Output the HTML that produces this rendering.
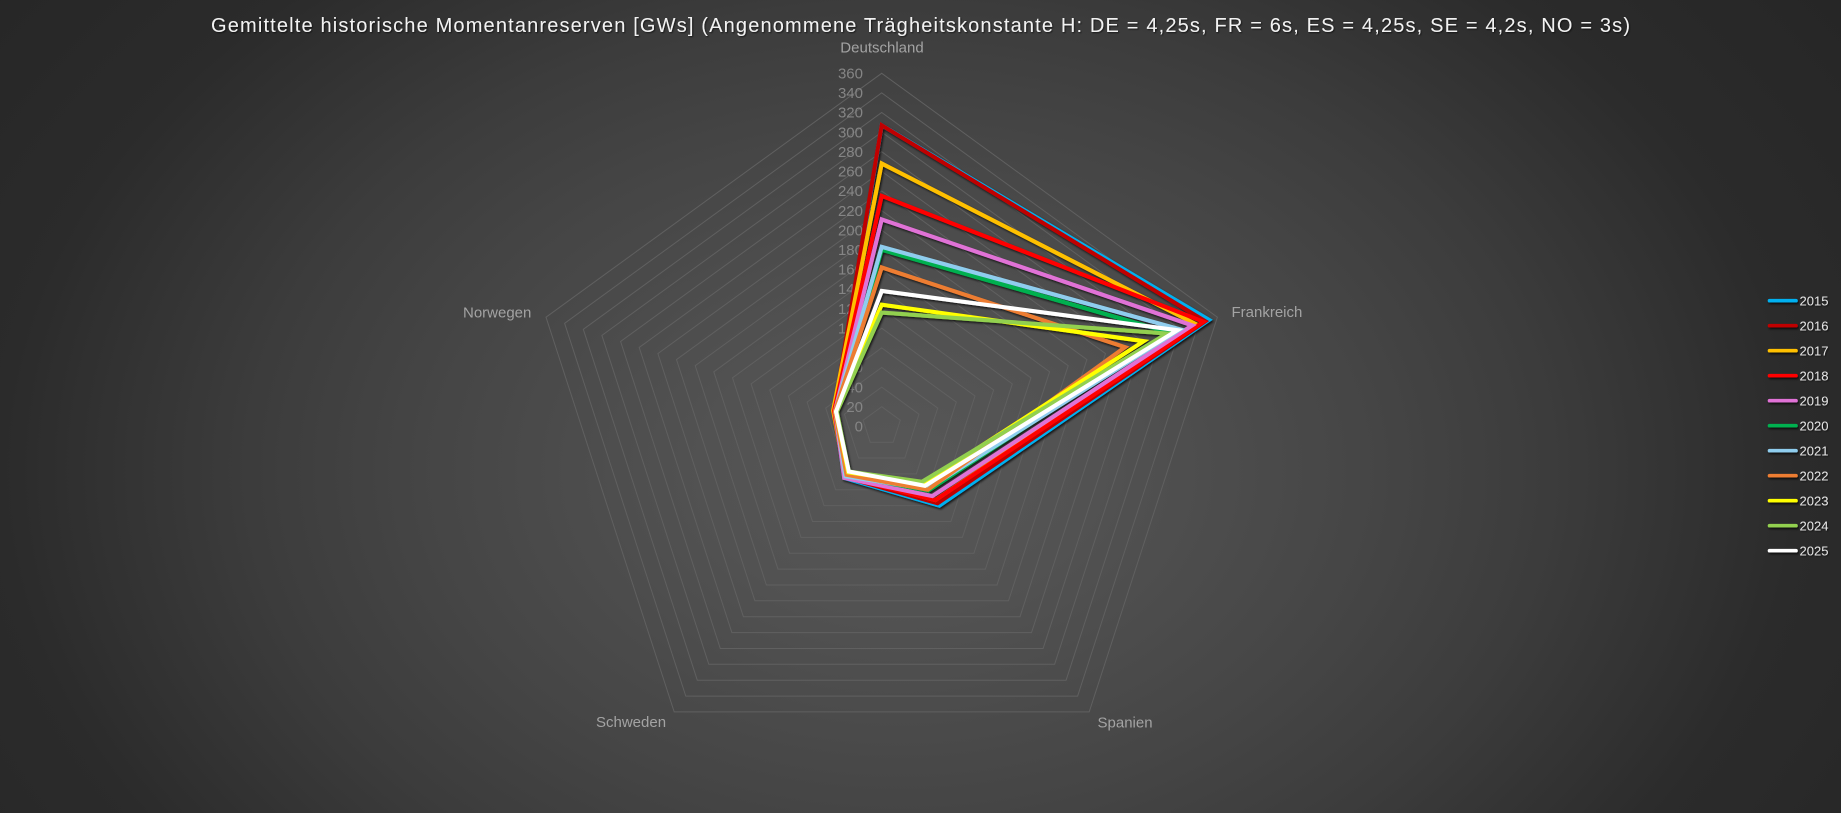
<!DOCTYPE html>
<html>
<head>
<meta charset="utf-8">
<style>
html,body{margin:0;padding:0;}
body{width:1841px;height:813px;overflow:hidden;
background:radial-gradient(ellipse 1300px 930px at 900px 470px,#575757 0%,#525252 15%,#4a4a4a 28.5%,#454545 37%,#3c3c3c 50%,#2b2b2b 69%,#232323 100%);}
svg{position:absolute;left:0;top:0;}
text{font-family:"Liberation Sans",sans-serif;}
</style>
</head>
<body>
<svg width="1841" height="813" viewBox="0 0 1841 813" xmlns="http://www.w3.org/2000/svg">
<defs>
<filter id="sh" x="-10%" y="-10%" width="120%" height="120%">
<feDropShadow dx="1.2" dy="1.6" stdDeviation="1.1" flood-color="#000" flood-opacity="0.75"/>
</filter>
<filter id="tsh" x="-5%" y="-30%" width="110%" height="160%">
<feDropShadow dx="1" dy="1" stdDeviation="0.8" flood-color="#000" flood-opacity="0.6"/>
</filter>
</defs>

<!-- Title -->
<text x="211" y="32" font-size="20" fill="#f2f2f2" textLength="1419" lengthAdjust="spacing" filter="url(#tsh)">Gemittelte historische Momentanreserven [GWs] (Angenommene Trägheitskonstante H: DE = 4,25s, FR = 6s, ES = 4,25s, SE = 4,2s, NO = 3s)</text>

<!-- grid rings -->
<g fill="none" stroke="#606060" stroke-width="1">
<polygon points="881.7,406.7 900.3,420.2 893.2,442.2 870.2,442.2 863.1,420.2"/>
<polygon points="881.7,387.1 919.0,414.2 904.8,458.0 858.6,458.0 844.4,414.2"/>
<polygon points="881.7,367.5 937.7,408.1 916.3,473.9 847.1,473.9 825.7,408.1"/>
<polygon points="881.7,347.9 956.3,402.1 927.8,489.8 835.6,489.8 807.1,402.1"/>
<polygon points="881.7,328.2 975.0,396.0 939.3,505.6 824.1,505.6 788.4,396.0"/>
<polygon points="881.7,308.6 993.6,390.0 950.9,521.5 812.5,521.5 769.8,390.0"/>
<polygon points="881.7,289.0 1012.3,383.9 962.4,537.4 801.0,537.4 751.1,383.9"/>
<polygon points="881.7,269.4 1030.9,377.8 973.9,553.2 789.5,553.2 732.5,377.8"/>
<polygon points="881.7,249.8 1049.6,371.8 985.4,569.1 778.0,569.1 713.8,371.8"/>
<polygon points="881.7,230.2 1068.2,365.7 997.0,585.0 766.4,585.0 695.2,365.7"/>
<polygon points="881.7,210.6 1086.9,359.6 1008.5,600.8 754.9,600.8 676.5,359.6"/>
<polygon points="881.7,190.97 1105.5,353.6 1020.0,616.7 743.4,616.7 657.9,353.6"/>
<polygon points="881.7,171.4 1124.2,347.5 1031.5,632.6 731.9,632.6 639.2,347.5"/>
<polygon points="881.7,151.7 1142.8,341.5 1043.1,648.5 720.3,648.5 620.6,341.5"/>
<polygon points="881.7,132.1 1161.5,335.4 1054.6,664.3 708.8,664.3 601.9,335.4"/>
<polygon points="881.7,112.5 1180.1,329.3 1066.1,680.2 697.3,680.2 583.3,329.3"/>
<polygon points="881.7,92.9 1198.8,323.3 1077.6,696.1 685.8,696.1 564.6,323.3"/>
<polygon points="881.7,73.3 1217.4,317.2 1089.2,711.9 674.2,711.9 546.0,317.2"/>
</g>

<!-- Tick labels -->
<g font-size="15" fill="#858585" text-anchor="end">
<text x="863" y="431.5">0</text>
<text x="863" y="411.9">20</text>
<text x="863" y="392.3">40</text>
<text x="863" y="372.7">60</text>
<text x="863" y="353.1">80</text>
<text x="863" y="333.5">100</text>
<text x="863" y="313.8">120</text>
<text x="863" y="294.2">140</text>
<text x="863" y="274.6">160</text>
<text x="863" y="255.0">180</text>
<text x="863" y="235.4">200</text>
<text x="863" y="215.8">220</text>
<text x="863" y="196.2">240</text>
<text x="863" y="176.6">260</text>
<text x="863" y="156.9">280</text>
<text x="863" y="137.3">300</text>
<text x="863" y="117.7">320</text>
<text x="863" y="98.1">340</text>
<text x="863" y="78.5">360</text>
</g>

<!-- Category labels -->
<g font-size="15" fill="#a3a3a3">
<text x="882" y="52.5" text-anchor="middle">Deutschland</text>
<text x="1231.5" y="317">Frankreich</text>
<text x="463" y="317.5">Norwegen</text>
<text x="596" y="727">Schweden</text>
<text x="1097.5" y="727.5">Spanien</text>
</g>

<!-- Series -->
<g transform="translate(881.7 426.3) scale(0.9806)" fill="none" stroke-width="4.2" stroke-linejoin="miter" stroke-miterlimit="10" filter="url(#sh)">
<polygon stroke="#00b0f0" points="0,-307 333.8,-108.5 58.8,80.9 -38.2,52.6 -47.6,-15.5"/>
<polygon stroke="#c00000" points="0,-307 330.0,-107.2 57.0,78.5 -37.6,51.8 -48.5,-15.8"/>
<polygon stroke="#ffc000" points="0,-268 320.5,-104.1 54.7,75.2 -37.0,51.0 -49.5,-16.1"/>
<polygon stroke="#ff0000" points="0,-235 328.1,-106.6 54.7,75.2 -37.6,51.8 -48.5,-15.8"/>
<polygon stroke="#e072d6" points="0,-211 316.7,-102.9 51.7,71.2 -38.2,52.6 -47.6,-15.5"/>
<polygon stroke="#00b050" points="0,-180 293.9,-95.5 47.6,65.5 -36.4,50.2 -46.6,-15.1"/>
<polygon stroke="#8fcdee" points="0,-183 304.3,-98.9 46.4,63.9 -37.0,51.0 -47.6,-15.5"/>
<polygon stroke="#ed7d31" points="0,-162 248.2,-80.7 47.0,64.7 -35.9,49.4 -47.6,-15.5"/>
<polygon stroke="#ffff00" points="0,-124 267.2,-86.8 42.3,58.2 -34.1,46.9 -46.6,-15.1"/>
<polygon stroke="#92d050" points="0,-116 291.0,-94.6 41.1,56.6 -33.5,46.1 -45.7,-14.8"/>
<polygon stroke="#ffffff" points="0,-138 301.5,-98.0 44.1,60.7 -33.5,46.1 -46.6,-15.1"/>
</g>

<!-- Legend -->
<g stroke-width="3.6" stroke-linecap="round" filter="url(#sh)">
<line x1="1769.5" y1="300.7" x2="1796" y2="300.7" stroke="#00b0f0"/>
<line x1="1769.5" y1="325.7" x2="1796" y2="325.7" stroke="#c00000"/>
<line x1="1769.5" y1="350.7" x2="1796" y2="350.7" stroke="#ffc000"/>
<line x1="1769.5" y1="375.7" x2="1796" y2="375.7" stroke="#ff0000"/>
<line x1="1769.5" y1="400.7" x2="1796" y2="400.7" stroke="#e072d6"/>
<line x1="1769.5" y1="425.7" x2="1796" y2="425.7" stroke="#00b050"/>
<line x1="1769.5" y1="450.7" x2="1796" y2="450.7" stroke="#8fcdee"/>
<line x1="1769.5" y1="475.7" x2="1796" y2="475.7" stroke="#ed7d31"/>
<line x1="1769.5" y1="500.7" x2="1796" y2="500.7" stroke="#ffff00"/>
<line x1="1769.5" y1="525.7" x2="1796" y2="525.7" stroke="#92d050"/>
<line x1="1769.5" y1="550.7" x2="1796" y2="550.7" stroke="#ffffff"/>
</g>
<g font-size="13" fill="#e6e6e6" filter="url(#tsh)">
<text x="1799.5" y="305.5">2015</text>
<text x="1799.5" y="330.5">2016</text>
<text x="1799.5" y="355.5">2017</text>
<text x="1799.5" y="380.5">2018</text>
<text x="1799.5" y="405.5">2019</text>
<text x="1799.5" y="430.5">2020</text>
<text x="1799.5" y="455.5">2021</text>
<text x="1799.5" y="480.5">2022</text>
<text x="1799.5" y="505.5">2023</text>
<text x="1799.5" y="530.5">2024</text>
<text x="1799.5" y="555.5">2025</text>
</g>
</svg>
</body>
</html>
